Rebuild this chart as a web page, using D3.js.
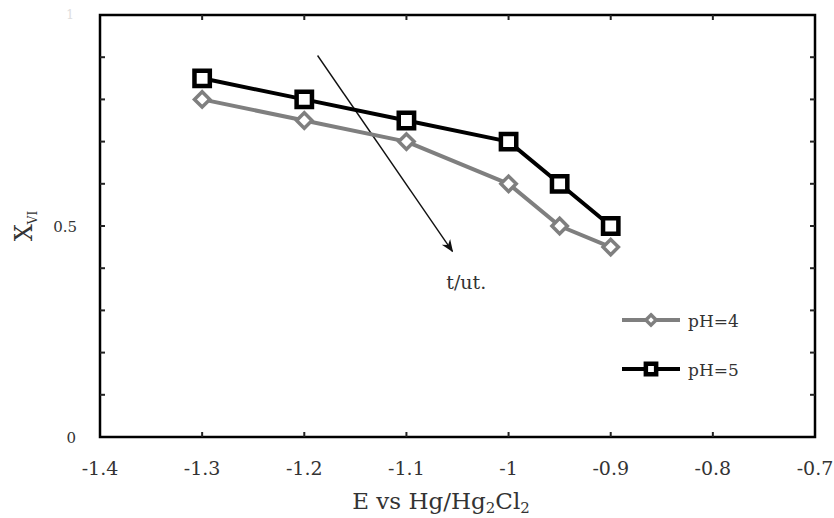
<!DOCTYPE html>
<html>
<head>
<meta charset="utf-8">
<script src="https://cdn.jsdelivr.net/npm/d3@7"></script>
<style>
  body { margin: 0; background: #fff; }
  svg { display: block; font-family: "DejaVu Serif", "Liberation Serif", serif; }
</style>
</head>
<body>
<svg></svg>
<script>
// Chart data
const potentials = [-1.3, -1.2, -1.1, -1.0, -0.95, -0.9];
const ph4 = [0.80, 0.75, 0.70, 0.60, 0.50, 0.45];
const ph5 = [0.85, 0.80, 0.75, 0.70, 0.60, 0.50];
const xTicks = [-1.4, -1.3, -1.2, -1.1, -1, -0.9, -0.8, -0.7];
const yTicks = [0, 0.1, 0.2, 0.3, 0.4, 0.5, 0.6, 0.7, 0.8, 0.9, 1];
const yLabels = [0, 0.5];

const width = 834, height = 518;
const plotLeft = 100, plotRight = 815, plotTop = 15, plotBottom = 437;

const svg = d3.select("svg").attr("width", width).attr("height", height);

const x = d3.scaleLinear().domain([-1.4, -0.7]).range([plotLeft, plotRight]);
const y = d3.scaleLinear().domain([0, 1]).range([plotBottom, plotTop]);

// frame
svg.append("rect")
  .attr("x", plotLeft).attr("y", plotTop)
  .attr("width", plotRight - plotLeft).attr("height", plotBottom - plotTop)
  .attr("fill", "none").attr("stroke", "#000").attr("stroke-width", 2.5);

// inward ticks on all four sides
const tickG = svg.append("g").attr("stroke", "#222").attr("stroke-width", 2);
xTicks.slice(1, -1).forEach(t => {
  tickG.append("line").attr("x1", x(t)).attr("x2", x(t)).attr("y1", plotBottom).attr("y2", plotBottom - 5);
  tickG.append("line").attr("x1", x(t)).attr("x2", x(t)).attr("y1", plotTop).attr("y2", plotTop + 5);
});
yTicks.slice(1, -1).forEach(t => {
  tickG.append("line").attr("x1", plotLeft).attr("x2", plotLeft + 5).attr("y1", y(t)).attr("y2", y(t));
  tickG.append("line").attr("x1", plotRight).attr("x2", plotRight - 5).attr("y1", y(t)).attr("y2", y(t));
});

// x tick labels
svg.append("g").selectAll("text")
  .data(xTicks)
  .join("text")
  .attr("x", d => x(d))
  .attr("y", 475)
  .attr("text-anchor", "middle")
  .attr("font-size", 19)
  .attr("fill", "#333")
  .text(d => String(d));

// y tick labels
svg.append("g").selectAll("text")
  .data(yLabels)
  .join("text")
  .attr("x", d => d === 0 ? 76 : 77)
  .attr("y", d => y(d) + 6)
  .attr("text-anchor", "end")
  .attr("font-size", 15)
  .attr("fill", "#333")
  .text(d => d);
svg.append("text")
  .attr("x", 74).attr("y", y(1) + 4)
  .attr("text-anchor", "end").attr("font-size", 12)
  .attr("fill", "#ddd").text("1");

// axis titles
const xt = svg.append("text")
  .attr("x", 441).attr("y", 509)
  .attr("text-anchor", "middle")
  .attr("font-size", 23)
  .attr("fill", "#333");
xt.append("tspan").text("E vs Hg/Hg");
xt.append("tspan").attr("font-size", 15).attr("dy", 4).text("2");
xt.append("tspan").attr("dy", -4).text("Cl");
xt.append("tspan").attr("font-size", 15).attr("dy", 4).text("2");

const yt = svg.append("text")
  .attr("transform", `translate(32,${y(0.5)}) rotate(-90)`)
  .attr("text-anchor", "middle")
  .attr("font-size", 24)
  .attr("fill", "#333");
yt.append("tspan").text("X");
yt.append("tspan").attr("font-size", 12).attr("dy", 5).text("VI");

// arrow annotation
svg.append("defs").append("marker")
  .attr("id", "arrow")
  .attr("viewBox", "0 0 10 10")
  .attr("refX", 9).attr("refY", 5)
  .attr("markerWidth", 9).attr("markerHeight", 9)
  .attr("orient", "auto")
  .append("path").attr("d", "M0,1 L10,5 L0,9 L3,5 Z").attr("fill", "#111");

svg.append("line")
  .attr("x1", x(-1.187)).attr("y1", y(0.904))
  .attr("x2", x(-1.055)).attr("y2", y(0.44))
  .attr("stroke", "#111").attr("stroke-width", 1.4)
  .attr("marker-end", "url(#arrow)");
svg.append("text")
  .attr("x", x(-1.061)).attr("y", y(0.35))
  .attr("font-size", 19)
  .attr("fill", "#333")
  .text("t/ut.");

// series
const series = [
  { name: "pH=4", values: ph4, color: "#7f7f7f", width: 4, symbol: d3.symbolDiamond2, size: 150, sw: 3.5 },
  { name: "pH=5", values: ph5, color: "#000", width: 4, symbol: d3.symbolSquare2, size: 300, sw: 4.5 }
];

const line = d3.line().x(d => x(d[0])).y(d => y(d[1]));

series.forEach(s => {
  const pts = potentials.map((p, i) => [p, s.values[i]]);
  svg.append("path")
    .attr("d", line(pts))
    .attr("fill", "none")
    .attr("stroke", s.color)
    .attr("stroke-width", s.width)
    .attr("stroke-linejoin", "round");
  svg.append("g").selectAll("path")
    .data(pts)
    .join("path")
    .attr("transform", d => `translate(${x(d[0])},${y(d[1])})`)
    .attr("d", d3.symbol(s.symbol, s.size))
    .attr("fill", "#fff")
    .attr("stroke", s.color)
    .attr("stroke-width", s.sw);
});

// legend
const legend = svg.append("g").selectAll("g")
  .data(series)
  .join("g")
  .attr("transform", (d, i) => `translate(622,${320 + i * 49})`);
legend.append("line")
  .attr("x1", 0).attr("x2", 58)
  .attr("stroke", d => d.color).attr("stroke-width", d => d.width);
legend.append("path")
  .attr("transform", "translate(29,0)")
  .attr("d", d => d3.symbol(d.symbol, d.size * 0.45)())
  .attr("fill", "#fff")
  .attr("stroke", d => d.color)
  .attr("stroke-width", d => d.sw);
legend.append("text")
  .attr("x", 66).attr("y", 7)
  .attr("font-size", 17)
  .attr("fill", "#333")
  .text(d => d.name);
</script>
</body>
</html>
